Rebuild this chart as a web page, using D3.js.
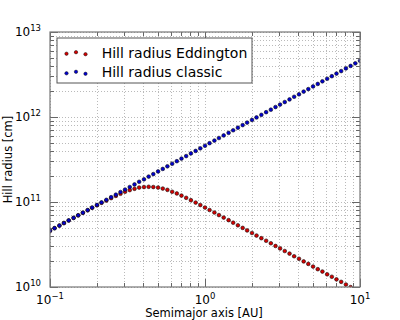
<!DOCTYPE html>
<html>
<head>
<meta charset="utf-8">
<title>Hill radius</title>
<script src="https://d3js.org/d3.v7.min.js"></script>
<style>
  body { margin: 0; background: #fff; }
  svg { font-family: "DejaVu Sans", sans-serif; }
</style>
</head>
<body>
<script>
// semimajor axis [AU]
var semimajor = [
  0.100, 0.107, 0.115, 0.123, 0.132, 0.142, 0.152, 0.163, 0.175, 0.187,
  0.201, 0.215, 0.231, 0.248, 0.266, 0.285, 0.305, 0.327, 0.351, 0.376,
  0.404, 0.433, 0.464, 0.498, 0.534, 0.572, 0.614, 0.658, 0.705, 0.756,
  0.811, 0.870, 0.933, 1.00, 1.07, 1.15, 1.23, 1.32, 1.42, 1.52,
  1.63, 1.75, 1.87, 2.01, 2.15, 2.31, 2.48, 2.66, 2.85, 3.05,
  3.27, 3.51, 3.76, 4.04, 4.33, 4.64, 4.98, 5.34, 5.72, 6.14,
  6.58, 7.05, 7.56, 8.11, 8.70, 9.33, 10.0
];

// Hill radius [cm], Eddington
var hillEddington = [
  4.59e10, 4.92e10, 5.28e10, 5.65e10, 6.06e10, 6.50e10, 6.96e10, 7.46e10, 7.99e10, 8.55e10,
  9.15e10, 9.78e10, 1.04e11, 1.11e11, 1.18e11, 1.25e11, 1.32e11, 1.38e11, 1.43e11, 1.48e11,
  1.50e11, 1.51e11, 1.50e11, 1.48e11, 1.44e11, 1.39e11, 1.32e11, 1.26e11, 1.19e11, 1.12e11,
  1.05e11, 9.84e10, 9.21e10, 8.61e10, 8.05e10, 7.52e10, 7.02e10, 6.56e10, 6.12e10, 5.71e10,
  5.32e10, 4.96e10, 4.63e10, 4.32e10, 4.03e10, 3.75e10, 3.50e10, 3.27e10, 3.04e10, 2.84e10,
  2.65e10, 2.47e10, 2.30e10, 2.15e10, 2.00e10, 1.87e10, 1.74e10, 1.62e10, 1.52e10, 1.41e10,
  1.32e10, 1.23e10, 1.15e10, 1.07e10, 9.97e9, 9.30e9, 8.67e9
];

// Hill radius [cm], classic
var hillClassic = [
  4.59e10, 4.92e10, 5.28e10, 5.66e10, 6.07e10, 6.51e10, 6.98e10, 7.48e10, 8.03e10, 8.60e10,
  9.23e10, 9.89e10, 1.06e11, 1.14e11, 1.22e11, 1.31e11, 1.40e11, 1.50e11, 1.61e11, 1.73e11,
  1.85e11, 1.99e11, 2.13e11, 2.29e11, 2.45e11, 2.63e11, 2.82e11, 3.02e11, 3.24e11, 3.47e11,
  3.73e11, 3.99e11, 4.28e11, 4.59e11, 4.92e11, 5.28e11, 5.66e11, 6.07e11, 6.51e11, 6.98e11,
  7.48e11, 8.03e11, 8.60e11, 9.23e11, 9.89e11, 1.06e12, 1.14e12, 1.22e12, 1.31e12, 1.40e12,
  1.50e12, 1.61e12, 1.73e12, 1.85e12, 1.99e12, 2.13e12, 2.29e12, 2.45e12, 2.63e12, 2.82e12,
  3.02e12, 3.24e12, 3.47e12, 3.73e12, 3.99e12, 4.28e12, 4.59e12
];

var seriesNames = ["Hill radius Eddington", "Hill radius classic"];
var seriesColors = ["#d40000", "#0000d0"];
var xTickExp = [-1, 0, 1];
var yTickExp = [10, 11, 12, 13];

var margin = {top: 32, right: 40, bottom: 33, left: 50},
    width = 400 - margin.left - margin.right,
    height = 320 - margin.top - margin.bottom;

var svg = d3.select("body").append("svg")
    .attr("width", width + margin.left + margin.right)
    .attr("height", height + margin.top + margin.bottom);

var chart = svg.append("g")
    .attr("transform", "translate(" + margin.left + "," + margin.top + ")");

var x = d3.scaleLog().domain([0.1, 10]).range([0, width]);
var y = d3.scaleLog().domain([1e10, 1e13]).range([height, 0]);

function isMajor(v) {
  var l = Math.log10(v);
  return Math.abs(l - Math.round(l)) < 1e-6;
}

var xt = x.ticks(), yt = y.ticks();

// dotted grid, minor + major
chart.append("g").selectAll("line").data(xt).enter().append("line")
    .attr("x1", function(d){ return Math.round(x(d)) + 0.5; })
    .attr("x2", function(d){ return Math.round(x(d)) + 0.5; })
    .attr("y1", 0).attr("y2", height)
    .attr("stroke", "#a8a8a8").attr("stroke-width", 0.8)
    .attr("stroke-dasharray", "1,2");
chart.append("g").selectAll("line").data(yt).enter().append("line")
    .attr("y1", function(d){ return Math.round(y(d)) + 0.5; })
    .attr("y2", function(d){ return Math.round(y(d)) + 0.5; })
    .attr("x1", 0).attr("x2", width)
    .attr("stroke", "#a8a8a8").attr("stroke-width", 0.8)
    .attr("stroke-dasharray", "1,2");

// inward ticks on all four sides
var tickG = chart.append("g").attr("stroke", "#666").attr("stroke-width", 1);
xt.forEach(function(d){
  var px = Math.round(x(d)) + 0.5, len = isMajor(d) ? 8 : 4;
  tickG.append("line").attr("x1", px).attr("x2", px).attr("y1", height).attr("y2", height - len);
  tickG.append("line").attr("x1", px).attr("x2", px).attr("y1", 0).attr("y2", len);
});
yt.forEach(function(d){
  var py = Math.round(y(d)) + 0.5, len = isMajor(d) ? 8 : 4;
  tickG.append("line").attr("y1", py).attr("y2", py).attr("x1", 0).attr("x2", len);
  tickG.append("line").attr("y1", py).attr("y2", py).attr("x1", width).attr("x2", width - len);
});

// data
chart.append("clipPath").attr("id", "clip")
  .append("rect").attr("width", width).attr("height", height);

var plotG = chart.append("g").attr("clip-path", "url(#clip)");
[hillEddington, hillClassic].forEach(function(vals, k){
  plotG.append("g").selectAll("circle").data(vals).enter().append("circle")
      .attr("cx", function(d, i){ return x(semimajor[i]); })
      .attr("cy", function(d){ return y(d); })
      .attr("r", 1.85)
      .attr("fill", seriesColors[k])
      .attr("stroke", "#111").attr("stroke-width", 0.6);
});

// frame
chart.append("rect").attr("x", 0).attr("y", 0)
    .attr("width", width).attr("height", height)
    .attr("fill", "none").attr("stroke", "#777").attr("stroke-width", 1.2);

// tick labels
function powLabel(sel, e) {
  sel.append("tspan").text("10");
  sel.append("tspan").attr("font-size", 8.5).attr("dy", -5)
      .text(e < 0 ? "\u2212" + (-e) : e);
}
xTickExp.forEach(function(e){
  var t = chart.append("text")
      .attr("x", x(Math.pow(10, e))).attr("y", height + 17)
      .attr("text-anchor", "middle").attr("font-size", 12).attr("fill", "#000");
  powLabel(t, e);
});
yTickExp.forEach(function(e){
  var t = chart.append("text")
      .attr("x", -9).attr("y", y(Math.pow(10, e)) + 4)
      .attr("text-anchor", "end").attr("font-size", 12).attr("fill", "#000");
  powLabel(t, e);
});

// axis titles
chart.append("text")
    .attr("x", width / 2 - 1).attr("y", height + 30)
    .attr("text-anchor", "middle").attr("font-size", 11.5)
    .text("Semimajor axis [AU]");
chart.append("text")
    .attr("transform", "translate(" + (12 - margin.left) + "," + (height / 2) + ") rotate(-90)")
    .attr("text-anchor", "middle").attr("font-size", 11.5)
    .text("Hill radius [cm]");

// legend
var legend = chart.append("g").attr("transform", "translate(7,6)");
legend.append("rect").attr("width", 195).attr("height", 45)
    .attr("fill", "#fff").attr("stroke", "#555").attr("stroke-width", 1);
var dotOffsets = [1, -0.5, 1.5];
seriesNames.forEach(function(name, k){
  var row = legend.append("g").attr("transform", "translate(0," + (14.7 + k * 19.6) + ")");
  [9.5, 19, 28.5].forEach(function(dx, j){
    row.append("circle").attr("cx", dx).attr("cy", dotOffsets[j]).attr("r", 1.7)
        .attr("fill", seriesColors[k]).attr("stroke", "#111").attr("stroke-width", 0.5);
  });
  row.append("text").attr("x", 44.7).attr("y", 5).attr("font-size", 14).text(name);
});
</script>
</body>
</html>
